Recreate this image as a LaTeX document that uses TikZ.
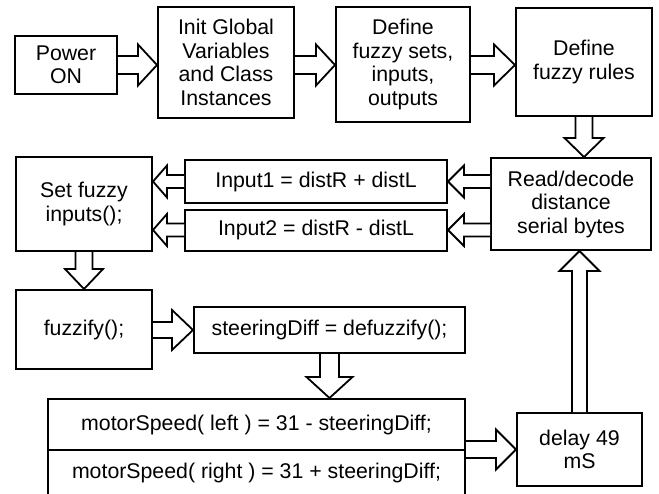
\documentclass[tikz,border=0pt]{standalone}
\usepackage{fontspec}
\setmainfont{Liberation Sans}
\usetikzlibrary{calc}
\tikzset{
  box/.style={draw, line width=2pt, align=center, inner sep=0pt, fill=white,
    font=\fontsize{21.3pt}{23.5pt}\selectfont},
  blk/.style={draw, line width=1.8pt, fill=white, line join=miter},
}
% right arrow: from, to, y-ref, shaft half width, head half width, head length
\newcommand\arR[6]{\draw[blk] let \p1=(#1.east), \p2=(#2.west), \p3=(#3.center) in
  (\x1,\y3+#4) -- (\x2-#6,\y3+#4) -- (\x2-#6,\y3+#5) -- (\x2,\y3) -- (\x2-#6,\y3-#5) -- (\x2-#6,\y3-#4) -- (\x1,\y3-#4);}
\newcommand\arL[6]{\draw[blk] let \p1=(#1.west), \p2=(#2.east), \p3=(#3.center) in
  (\x1,\y3+#4) -- (\x2+#6,\y3+#4) -- (\x2+#6,\y3+#5) -- (\x2,\y3) -- (\x2+#6,\y3-#5) -- (\x2+#6,\y3-#4) -- (\x1,\y3-#4);}
\newcommand\arD[6]{\draw[blk] let \p1=(#1.south), \p2=(#2.north), \p3=(#3.center) in
  (\x3+#4,\y1) -- (\x3+#4,\y2+#6) -- (\x3+#5,\y2+#6) -- (\x3,\y2) -- (\x3-#5,\y2+#6) -- (\x3-#4,\y2+#6) -- (\x3-#4,\y1);}
\newcommand\arU[6]{\draw[blk] let \p1=(#1.north), \p2=(#2.south), \p3=(#3.center) in
  (\x3+#4,\y1) -- (\x3+#4,\y2-#6) -- (\x3+#5,\y2-#6) -- (\x3,\y2) -- (\x3-#5,\y2-#6) -- (\x3-#4,\y2-#6) -- (\x3-#4,\y1);}
\begin{document}
\begin{tikzpicture}[x=1pt,y=-1pt]
\useasboundingbox (0,0) rectangle (659,493);
% top row
\node[box, minimum width=102pt, minimum height=58pt] (power) at (66,65) {Power\\ON};
\node[box, minimum width=136pt, minimum height=111pt] (init) at (226,62.5) {Init Global\\Variables\\and Class\\Instances};
\node[box, minimum width=134pt, minimum height=115pt] (sets) at (403,64.5) {Define\\fuzzy sets,\\inputs,\\outputs};
\node[box, minimum width=136pt, minimum height=108pt] (rules) at (584,62) {Define\\fuzzy rules};
% second row
\node[box, minimum width=160pt, minimum height=92pt] (read) at (571,204) {Read/decode\\distance\\serial bytes};
\node[box, minimum width=262pt, minimum height=43pt] (in1) at (316,181.5) {Input1 = distR + distL};
\node[box, minimum width=262pt, minimum height=41pt] (in2) at (316,230) {Input2 = distR - distL};
\node[box, minimum width=136pt, minimum height=94pt] (setf) at (84,204) {Set fuzzy\\inputs();};
% third row
\node[box, minimum width=136pt, minimum height=79pt] (fuzz) at (84,329.5) {fuzzify();};
\node[box, minimum width=271pt, minimum height=46pt] (steer) at (329.5,330) {steeringDiff = defuzzify();};
% bottom
\node[box, minimum width=417pt, minimum height=51pt] (motorA) at (256.5,424.5) {motorSpeed( left ) = 31 - steeringDiff;};
\node[box, minimum width=417pt, minimum height=46pt] (motorB) at (256.5,473) {motorSpeed( right ) = 31 + steeringDiff;};
\node[box, minimum width=125pt, minimum height=73pt] (delay) at (579.5,449.5) {delay 49\\mS};
% connectors
\arR{power}{init}{power}{9pt}{20.5pt}{19pt}
\arR{init}{sets}{power}{9pt}{20.5pt}{19pt}
\arR{sets}{rules}{power}{9pt}{20.5pt}{21pt}
\arD{rules}{read}{rules}{8.5pt}{19.5pt}{19pt}
\arL{read}{in1}{in1}{6.5pt}{16pt}{16pt}
\arL{read}{in2}{in2}{6.5pt}{16pt}{16pt}
\arL{in1}{setf}{in1}{6.5pt}{16pt}{14pt}
\arL{in2}{setf}{in2}{6.5pt}{16pt}{14pt}
\arD{setf}{fuzz}{setf}{8.5pt}{19pt}{20pt}
\arR{fuzz}{steer}{steer}{8pt}{20pt}{21pt}
\arD{steer}{motorA}{steer}{9.5pt}{23pt}{21pt}
\arR{motorA}{delay}{delay}{8.5pt}{20pt}{20pt}
\arU{delay}{read}{delay}{7.5pt}{20pt}{20pt}
\end{tikzpicture}
\end{document}
